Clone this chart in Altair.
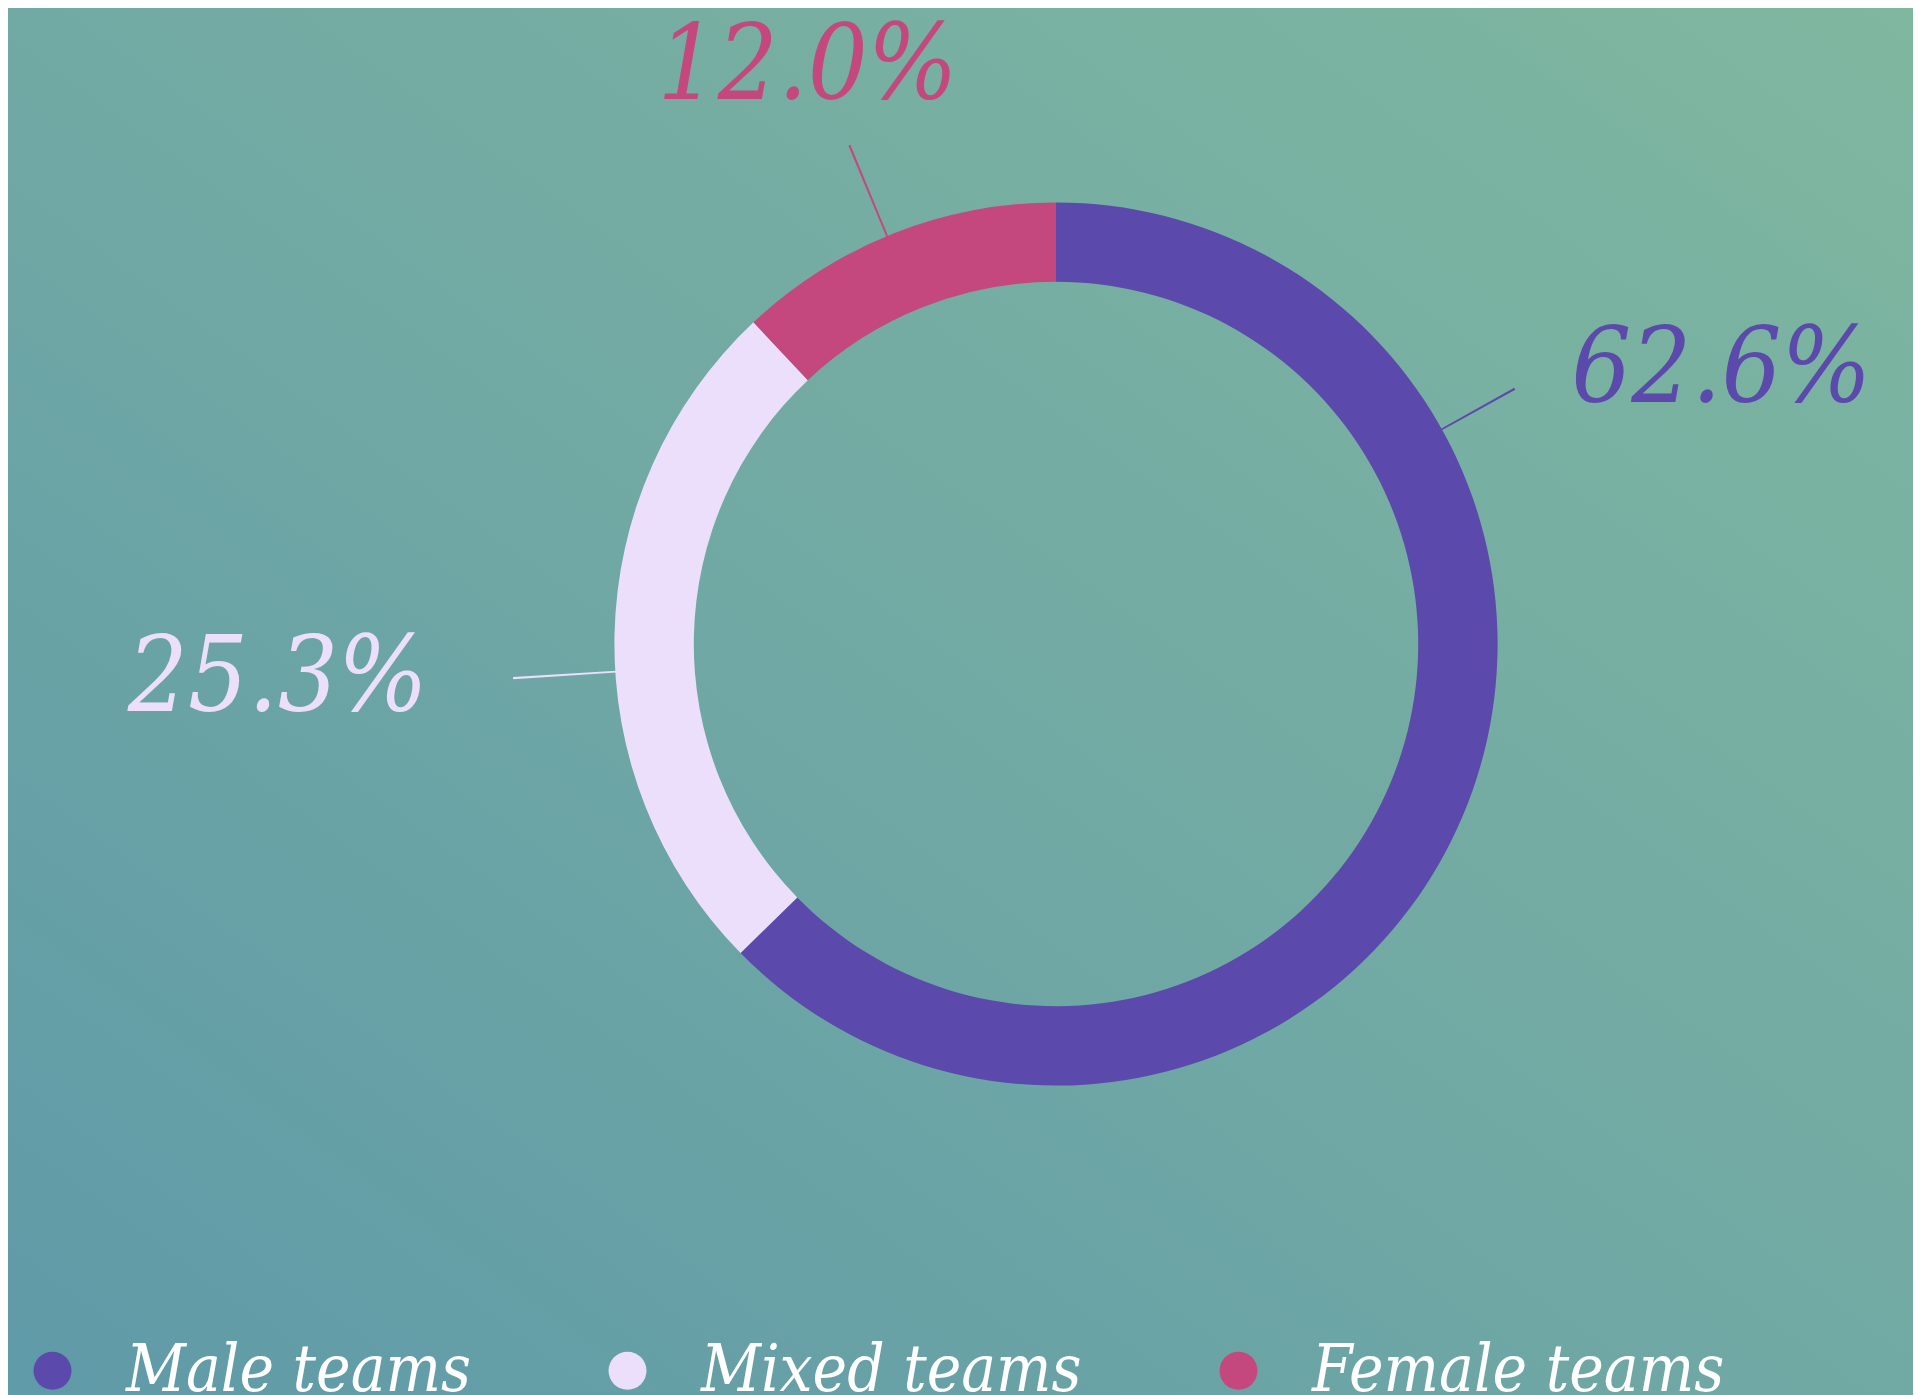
import altair as alt
import pandas as pd

# ---- data ----
categories = ["Male teams", "Mixed teams", "Female teams"]
values = [62.6, 25.3, 12.0]
colors = ["#5b4aab", "#ecdffb", "#c4487e"]

# ---- layout / style constants (label anchors in degrees from 12 o'clock) ----
leader_angle = [60.9, 266.4, 337.5]
leader_outer = [525, 544, 540]
label_angle = [70.0, 265.1, 335.5]
label_radius = [708, 781, 599]

W, H = 1905, 1387
CX, CY = 1048, 636
R_OUT, R_IN = 441.6, 362.2
FONT = "DejaVu Serif Condensed, DejaVu Serif, serif"

df = pd.DataFrame({
    "category": categories,
    "value": values,
    "order": list(range(len(categories))),
    "lead_a": leader_angle,
    "lead_r": leader_outer,
    "lab_a": label_angle,
    "lab_r": label_radius,
})

color_scale = alt.Scale(domain=categories, range=colors)
deg_scale = alt.Scale(domain=[0, 360], range=[0, 6.283185307179586])

bg = alt.Chart(pd.DataFrame({"k": [0]})).mark_rect(
    fill=alt.Gradient(
        gradient="linear",
        x1=0, y1=1, x2=1, y2=0,
        stops=[
            alt.GradientStop(color="#5f9aa8", offset=0),
            alt.GradientStop(color="#71a9a4", offset=0.5),
            alt.GradientStop(color="#7fb7a0", offset=1),
        ],
    ),
).encode(
    x=alt.value(0), x2=alt.value(W), y=alt.value(0), y2=alt.value(H)
)

ring = alt.Chart(df).mark_arc(radius=R_OUT, radius2=R_IN).encode(
    x=alt.value(CX),
    y=alt.value(CY),
    theta=alt.Theta("value:Q", stack=True),
    order=alt.Order("order:Q"),
    color=alt.Color(
        "category:N",
        scale=color_scale,
        legend=alt.Legend(
            orient="none",
            legendX=12,
            legendY=1330,
            direction="horizontal",
            title=None,
            symbolType="circle",
            symbolSize=1444,
            symbolStrokeWidth=0,
            symbolOpacity=1,
            labelFont=FONT,
            labelFontStyle="italic",
            labelFontSize=65,
            labelColor="#ffffff",
            labelOffset=41,
            labelLimit=0,
            columnPadding=124,
            padding=0,
        ),
    ),
)

leaders = alt.Chart(df).transform_calculate(
    a1="datum.lead_a - 0.12", a2="datum.lead_a + 0.12", r0=str(R_OUT - 1)
).mark_arc().encode(
    x=alt.value(CX),
    y=alt.value(CY),
    theta=alt.Theta("a1:Q", scale=deg_scale),
    theta2="a2:Q",
    radius=alt.Radius("r0:Q", scale=None),
    radius2="lead_r:Q",
    color=alt.Color("category:N", scale=color_scale, legend=None),
)

labels = alt.Chart(df).transform_calculate(
    label="format(datum.value, '.1f') + '%'"
).mark_text(
    font=FONT, fontStyle="italic", fontSize=105, align="center", baseline="alphabetic"
).encode(
    x=alt.value(CX),
    y=alt.value(CY),
    theta=alt.Theta("lab_a:Q", scale=deg_scale),
    radius=alt.Radius("lab_r:Q", scale=None),
    text="label:N",
    color=alt.Color("category:N", scale=color_scale, legend=None),
)

chart = alt.layer(bg, ring, leaders, labels).resolve_scale(
    theta="independent", radius="independent"
).properties(
    width=W, height=H, autosize=alt.AutoSizeParams(type="none"), padding=0
).configure_view(stroke=None)

chart.save("out.html", embed_options={"renderer": "svg", "actions": False})
